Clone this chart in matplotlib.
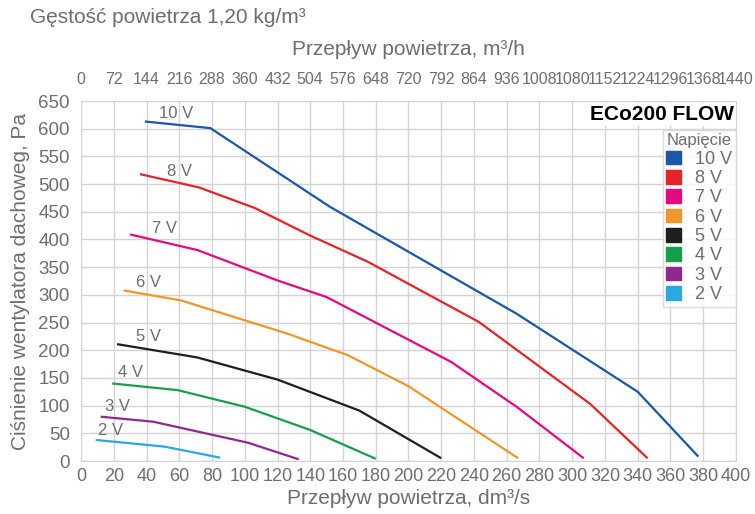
import matplotlib.pyplot as plt
from matplotlib.patches import Patch

plt.rcParams['font.family'] = ['Liberation Sans', 'DejaVu Sans']

GRAY = '#6d6e71'
GRID = '#d4d4d4'

# flow in dm3/s, pressure in Pa
v10_x = [39, 79, 152, 266, 340, 377]
v10_y = [613, 601, 459, 266, 125, 8]
v8_x = [36, 72, 106, 140, 175, 243, 311, 346]
v8_y = [518, 494, 457, 407, 360, 251, 103, 5]
v7_x = [30, 71, 120, 150, 226, 266, 307]
v7_y = [409, 381, 326, 296, 179, 98, 5]
v6_x = [26, 61, 126, 163, 200, 267]
v6_y = [308, 290, 230, 191, 135, 5]
v5_x = [22, 71, 120, 170, 220]
v5_y = [211, 187, 147, 91, 5]
v4_x = [19, 59, 100, 140, 180]
v4_y = [140, 128, 98, 56, 4]
v3_x = [12, 44, 102, 133]
v3_y = [80, 71, 33, 3]
v2_x = [9, 51, 85]
v2_y = [38, 26, 6]

labels = ['10 V', '8 V', '7 V', '6 V', '5 V', '4 V', '3 V', '2 V']
colors = ['#1a57a6', '#e52328', '#e5097f', '#f0962d', '#1e1e1e', '#17a04b', '#8e2a8f', '#29a9e0']
label_x = [58, 60, 51, 41, 41, 30, 22, 18]
label_y = [628, 522, 419, 322, 224, 159, 98, 55]

series = [(v10_x, v10_y), (v8_x, v8_y), (v7_x, v7_y), (v6_x, v6_y),
          (v5_x, v5_y), (v4_x, v4_y), (v3_x, v3_y), (v2_x, v2_y)]

fig = plt.figure(figsize=(7.55, 5.14), dpi=100)
ax = fig.add_axes([0.1073, 0.1031, 0.8675, 0.7004])

for (xs, ys), c, lab, lx, ly in zip(series, colors, labels, label_x, label_y):
    ax.plot(xs, ys, color=c, lw=1.6, solid_capstyle='butt')
    ax.text(lx, ly, lab, color=GRAY, fontsize=12, ha='center', va='center')

ax.set_xlim(0, 400)
ax.set_ylim(0, 650)
ax.set_xticks(range(0, 401, 20))
ax.set_yticks(range(0, 651, 50))
ax.grid(True, color=GRID, lw=1)
ax.set_axisbelow(True)
for s in ax.spines.values():
    s.set_color(GRID)
ax.tick_params(axis='x', length=0, labelsize=13, labelcolor=GRAY, pad=5)
ax.tick_params(axis='y', length=0, labelsize=13.5, labelcolor=GRAY, pad=8)
ax.set_xlabel('Przepływ powietrza, dm³/s', fontsize=15, color=GRAY, labelpad=3)
ax.set_ylabel('Ciśnienie wentylatora dachoweg, Pa', fontsize=15, color=GRAY, labelpad=6)

top = ax.secondary_xaxis('top', functions=(lambda x: x * 3.6, lambda x: x / 3.6))
top.set_xticks(range(0, 1441, 72))
top.tick_params(length=0, labelsize=11.5, labelcolor=GRAY, pad=10)
top.spines['top'].set_visible(False)
top.set_xlabel('Przepływ powietrza, m³/h', fontsize=15, color=GRAY, labelpad=12)

fig.text(0.04, 0.965, 'Gęstość powietrza 1,20 kg/m³', fontsize=15, color=GRAY,
         ha='left', va='center')

ax.text(0.997, 0.99, 'ECo200 FLOW', transform=ax.transAxes, fontsize=15,
        fontweight='bold', color='black', ha='right', va='top',
        bbox=dict(facecolor='white', edgecolor='none', pad=1.5))

handles = [Patch(facecolor=c, edgecolor=c) for c in colors]
leg = ax.legend(handles, labels, title='Napięcie', loc='upper right',
                bbox_to_anchor=(1.0, 0.92), fontsize=13, title_fontsize=12,
                handlelength=0.8, handleheight=0.8, handletextpad=0.8,
                labelspacing=0.12, borderpad=0.2, borderaxespad=0,
                frameon=True, fancybox=False, labelcolor=GRAY)
leg.get_title().set_color(GRAY)
leg.get_frame().set_edgecolor(GRID)
leg.get_frame().set_linewidth(1)

fig.savefig('out.png', dpi=100)
